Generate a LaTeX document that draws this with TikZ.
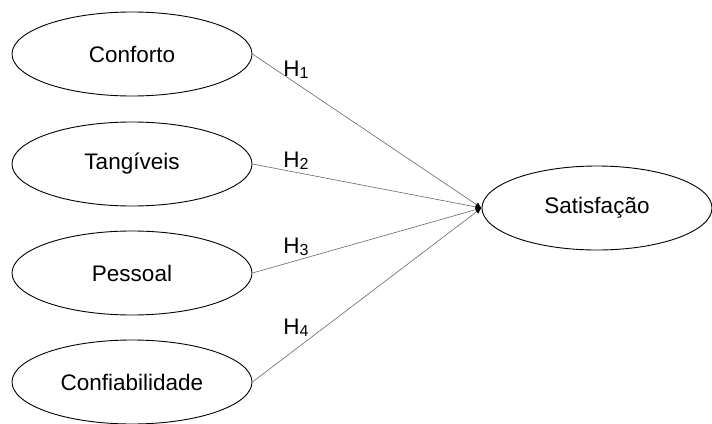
\documentclass[tikz,border=0pt]{standalone}
\usepackage{fontspec}
\setmainfont{Liberation Sans}
\usetikzlibrary{shapes.geometric,arrows.meta}
\newcommand{\hyp}[1]{H\raisebox{-0.2ex}{\fontsize{16}{16}\selectfont #1}}
\begin{document}
\begin{tikzpicture}[x=1pt,y=-1pt]
\tikzstyle{every node}+=[inner sep=0pt]
\tikzstyle{construct}=[ellipse,draw=black,line width=0.9pt,minimum width=240pt,minimum height=84pt,font=\fontsize{22.5}{26}\selectfont]
\tikzstyle{path}=[draw=black!60,line width=0.6pt,-{Latex[color=black,length=6pt,width=5pt]}]
\tikzstyle{hlabel}=[font=\fontsize{22.5}{26}\selectfont]
\useasboundingbox (0,0) rectangle (712,423);
\node [construct] (conforto) at (132,54) {Conforto};
\node [construct] (tangiveis) at (132,164) {Tangíveis};
\node [construct] (pessoal) at (132,273) {Pessoal};
\node [construct] (confiab) at (132,382) {Confiabilidade};
\node [construct,minimum width=230pt] (satisf) at (597,208) {Satisfação};
\draw [path] (conforto.east) -- (satisf.west);
\draw [path] (tangiveis.east) -- (satisf.west);
\draw [path] (pessoal.east) -- (satisf.west);
\draw [path] (confiab.east) -- (satisf.west);
\node [hlabel] (h1) at (296,70) {\hyp{1}};
\node [hlabel] (h2) at (296,161) {\hyp{2}};
\node [hlabel] (h3) at (296,247) {\hyp{3}};
\node [hlabel] (h4) at (296,328) {\hyp{4}};
\end{tikzpicture}
\end{document}
